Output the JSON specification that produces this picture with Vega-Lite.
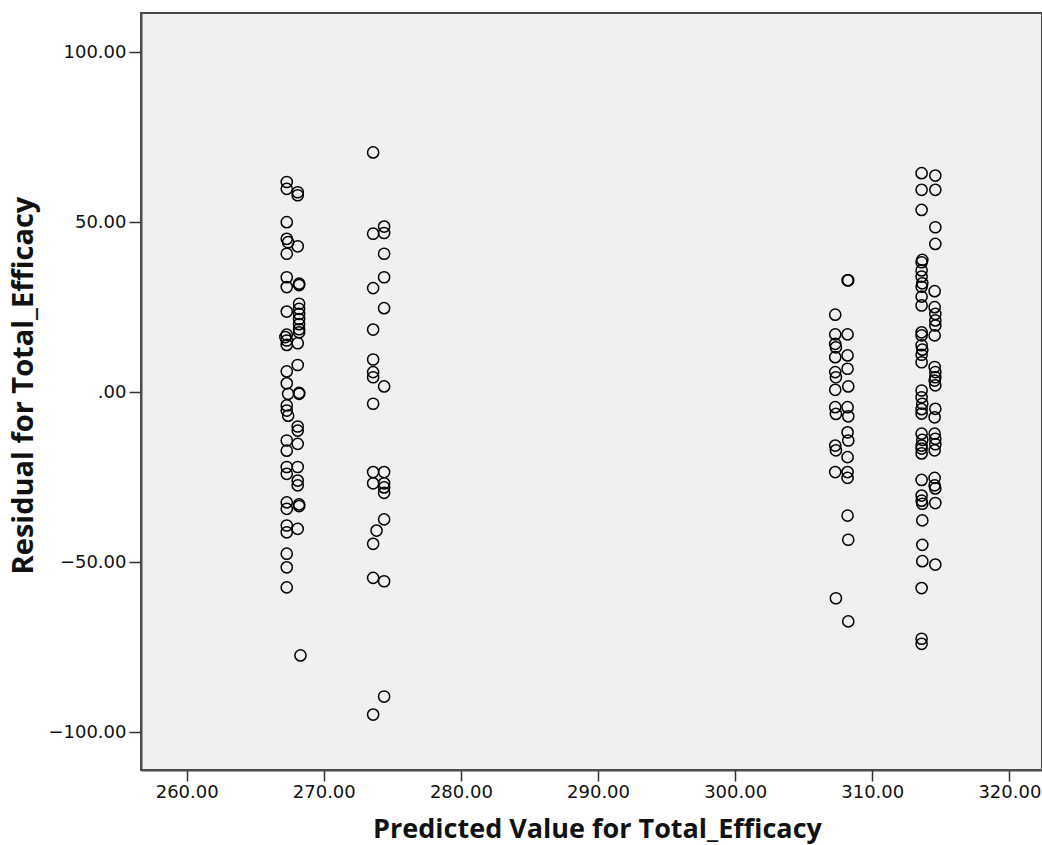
{
  "$schema": "https://vega.github.io/schema/vega-lite/v6.json",
  "autosize": "none",
  "width": 901,
  "height": 757,
  "padding": {"left": 141, "top": 13, "right": 0, "bottom": 75},
  "background": "#ffffff",
  "config": {
    "view": {"fill": "#f0f0f0", "stroke": "#4a4a4a", "strokeWidth": 2},
    "axis": {
      "domainColor": "#4a4a4a", "domainWidth": 2,
      "tickColor": "#333333", "tickWidth": 1.5, "tickSize": 11,
      "grid": false,
      "labelFont": "DejaVu Sans", "labelFontSize": 18, "labelColor": "#111111",
      "titleFont": "Open Sans", "titleFontWeight": "bold", "titleFontSize": 27, "titleColor": "#111111"
    }
  },
  "data": {"values": [
    {"predicted": 267.3, "residual": 61.8}, {"predicted": 267.3, "residual": 59.8}, {"predicted": 267.3, "residual": 50.0}, {"predicted": 267.3, "residual": 45.1}, {"predicted": 267.4, "residual": 44.1}, {"predicted": 267.3, "residual": 40.7}, {"predicted": 267.3, "residual": 33.8}, {"predicted": 267.3, "residual": 30.9}, {"predicted": 267.3, "residual": 23.7}, {"predicted": 267.3, "residual": 16.9}, {"predicted": 267.2, "residual": 16.2}, {"predicted": 267.3, "residual": 15.2}, {"predicted": 267.3, "residual": 13.9}, {"predicted": 267.3, "residual": 6.1}, {"predicted": 267.3, "residual": 2.6}, {"predicted": 267.4, "residual": -0.5}, {"predicted": 267.3, "residual": -3.9}, {"predicted": 267.3, "residual": -5.4}, {"predicted": 267.4, "residual": -6.9}, {"predicted": 267.3, "residual": -14.2}, {"predicted": 267.3, "residual": -17.2}, {"predicted": 267.3, "residual": -22.0}, {"predicted": 267.3, "residual": -24.0}, {"predicted": 267.3, "residual": -32.4}, {"predicted": 267.3, "residual": -34.3}, {"predicted": 267.3, "residual": -39.2}, {"predicted": 267.3, "residual": -41.2}, {"predicted": 267.3, "residual": -47.5}, {"predicted": 267.3, "residual": -51.5}, {"predicted": 267.3, "residual": -57.4},
    {"predicted": 268.1, "residual": 58.8}, {"predicted": 268.1, "residual": 57.9}, {"predicted": 268.1, "residual": 42.9}, {"predicted": 268.2, "residual": 31.9}, {"predicted": 268.2, "residual": 31.5}, {"predicted": 268.2, "residual": 26.0}, {"predicted": 268.2, "residual": 24.5}, {"predicted": 268.2, "residual": 23.0}, {"predicted": 268.2, "residual": 21.5}, {"predicted": 268.2, "residual": 20.0}, {"predicted": 268.2, "residual": 18.5}, {"predicted": 268.2, "residual": 17.6}, {"predicted": 268.1, "residual": 14.4}, {"predicted": 268.1, "residual": 8.0}, {"predicted": 268.2, "residual": -0.2}, {"predicted": 268.2, "residual": -0.5}, {"predicted": 268.1, "residual": -10.1}, {"predicted": 268.1, "residual": -11.3}, {"predicted": 268.1, "residual": -15.2}, {"predicted": 268.1, "residual": -22.0}, {"predicted": 268.1, "residual": -26.0}, {"predicted": 268.1, "residual": -27.4}, {"predicted": 268.2, "residual": -33.0}, {"predicted": 268.2, "residual": -33.5}, {"predicted": 268.1, "residual": -40.2}, {"predicted": 268.3, "residual": -77.4},
    {"predicted": 273.6, "residual": 70.5}, {"predicted": 273.6, "residual": 46.6}, {"predicted": 273.6, "residual": 30.6}, {"predicted": 273.6, "residual": 18.4}, {"predicted": 273.6, "residual": 9.6}, {"predicted": 273.6, "residual": 5.9}, {"predicted": 273.6, "residual": 4.4}, {"predicted": 273.6, "residual": -3.4}, {"predicted": 273.6, "residual": -23.5}, {"predicted": 273.6, "residual": -26.8}, {"predicted": 273.85, "residual": -40.7}, {"predicted": 273.6, "residual": -44.6}, {"predicted": 273.6, "residual": -54.6}, {"predicted": 273.6, "residual": -94.8},
    {"predicted": 274.4, "residual": 48.7}, {"predicted": 274.4, "residual": 46.8}, {"predicted": 274.4, "residual": 40.7}, {"predicted": 274.4, "residual": 33.8}, {"predicted": 274.4, "residual": 24.7}, {"predicted": 274.4, "residual": 1.7}, {"predicted": 274.4, "residual": -23.5}, {"predicted": 274.4, "residual": -26.8}, {"predicted": 274.4, "residual": -28.0}, {"predicted": 274.4, "residual": -29.6}, {"predicted": 274.4, "residual": -37.4}, {"predicted": 274.4, "residual": -55.6}, {"predicted": 274.4, "residual": -89.5},
    {"predicted": 307.3, "residual": 22.8}, {"predicted": 307.3, "residual": 17.0}, {"predicted": 307.3, "residual": 14.2}, {"predicted": 307.35, "residual": 13.2}, {"predicted": 307.3, "residual": 10.3}, {"predicted": 307.3, "residual": 5.9}, {"predicted": 307.35, "residual": 4.4}, {"predicted": 307.3, "residual": 0.7}, {"predicted": 307.3, "residual": -4.4}, {"predicted": 307.35, "residual": -6.4}, {"predicted": 307.3, "residual": -15.7}, {"predicted": 307.35, "residual": -17.1}, {"predicted": 307.3, "residual": -23.5}, {"predicted": 307.35, "residual": -60.6},
    {"predicted": 308.2, "residual": 32.9}, {"predicted": 308.25, "residual": 32.9}, {"predicted": 308.2, "residual": 17.0}, {"predicted": 308.2, "residual": 10.8}, {"predicted": 308.2, "residual": 6.9}, {"predicted": 308.25, "residual": 1.7}, {"predicted": 308.2, "residual": -4.4}, {"predicted": 308.25, "residual": -7.1}, {"predicted": 308.2, "residual": -11.8}, {"predicted": 308.25, "residual": -14.2}, {"predicted": 308.2, "residual": -19.1}, {"predicted": 308.2, "residual": -23.5}, {"predicted": 308.2, "residual": -25.2}, {"predicted": 308.2, "residual": -36.3}, {"predicted": 308.25, "residual": -43.4}, {"predicted": 308.25, "residual": -67.4},
    {"predicted": 313.6, "residual": 64.4}, {"predicted": 313.6, "residual": 59.5}, {"predicted": 313.6, "residual": 53.6}, {"predicted": 313.65, "residual": 38.9}, {"predicted": 313.6, "residual": 38.2}, {"predicted": 313.6, "residual": 35.8}, {"predicted": 313.6, "residual": 34.0}, {"predicted": 313.65, "residual": 32.0}, {"predicted": 313.6, "residual": 31.0}, {"predicted": 313.6, "residual": 28.1}, {"predicted": 313.6, "residual": 25.5}, {"predicted": 313.6, "residual": 17.6}, {"predicted": 313.6, "residual": 16.7}, {"predicted": 313.6, "residual": 13.8}, {"predicted": 313.65, "residual": 12.5}, {"predicted": 313.6, "residual": 11.0}, {"predicted": 313.6, "residual": 8.8}, {"predicted": 313.6, "residual": 0.5}, {"predicted": 313.6, "residual": -1.5}, {"predicted": 313.65, "residual": -3.4}, {"predicted": 313.6, "residual": -5.0}, {"predicted": 313.6, "residual": -6.3}, {"predicted": 313.6, "residual": -12.2}, {"predicted": 313.65, "residual": -14.0}, {"predicted": 313.6, "residual": -15.7}, {"predicted": 313.6, "residual": -16.6}, {"predicted": 313.6, "residual": -18.0}, {"predicted": 313.6, "residual": -25.8}, {"predicted": 313.6, "residual": -30.4}, {"predicted": 313.6, "residual": -31.9}, {"predicted": 313.65, "residual": -32.8}, {"predicted": 313.65, "residual": -37.7}, {"predicted": 313.65, "residual": -44.9}, {"predicted": 313.65, "residual": -49.7}, {"predicted": 313.6, "residual": -57.6}, {"predicted": 313.6, "residual": -72.5}, {"predicted": 313.6, "residual": -74.0},
    {"predicted": 314.6, "residual": 63.7}, {"predicted": 314.6, "residual": 59.5}, {"predicted": 314.6, "residual": 48.5}, {"predicted": 314.6, "residual": 43.6}, {"predicted": 314.55, "residual": 29.7}, {"predicted": 314.55, "residual": 25.0}, {"predicted": 314.6, "residual": 23.0}, {"predicted": 314.6, "residual": 21.1}, {"predicted": 314.6, "residual": 19.6}, {"predicted": 314.55, "residual": 16.7}, {"predicted": 314.55, "residual": 7.4}, {"predicted": 314.6, "residual": 5.9}, {"predicted": 314.6, "residual": 4.4}, {"predicted": 314.55, "residual": 3.4}, {"predicted": 314.6, "residual": 2.0}, {"predicted": 314.6, "residual": -4.9}, {"predicted": 314.55, "residual": -7.4}, {"predicted": 314.55, "residual": -12.2}, {"predicted": 314.6, "residual": -13.7}, {"predicted": 314.6, "residual": -15.3}, {"predicted": 314.55, "residual": -17.1}, {"predicted": 314.55, "residual": -25.2}, {"predicted": 314.55, "residual": -27.4}, {"predicted": 314.6, "residual": -28.3}, {"predicted": 314.6, "residual": -32.6}, {"predicted": 314.6, "residual": -50.7}
  ]},
  "mark": {"type": "point", "shape": "circle", "filled": false, "stroke": "#000000", "strokeWidth": 1.5, "size": 125, "opacity": 1},
  "encoding": {
    "x": {
      "field": "predicted", "type": "quantitative",
      "scale": {"domain": [256.67, 322.38], "zero": false, "nice": false},
      "axis": {
        "values": [260, 270, 280, 290, 300, 310, 320],
        "format": ".2f",
        "labelPadding": 2,
        "title": "Predicted Value for Total_Efficacy",
        "titleX": 456, "titleY": 67, "titleBaseline": "alphabetic", "titleAlign": "center"
      }
    },
    "y": {
      "field": "residual", "type": "quantitative",
      "scale": {"domain": [-111.1, 111.5], "zero": false, "nice": false},
      "axis": {
        "values": [-100, -50, 0, 50, 100],
        "labelExpr": "datum.value == 0 ? '.00' : format(datum.value, '.2f')",
        "labelPadding": 3, "tickSize": 12,
        "title": "Residual for Total_Efficacy",
        "titleFontSize": 29,
        "titleAngle": -90, "titleX": -109, "titleY": 372, "titleBaseline": "alphabetic", "titleAlign": "center"
      }
    }
  }
}
